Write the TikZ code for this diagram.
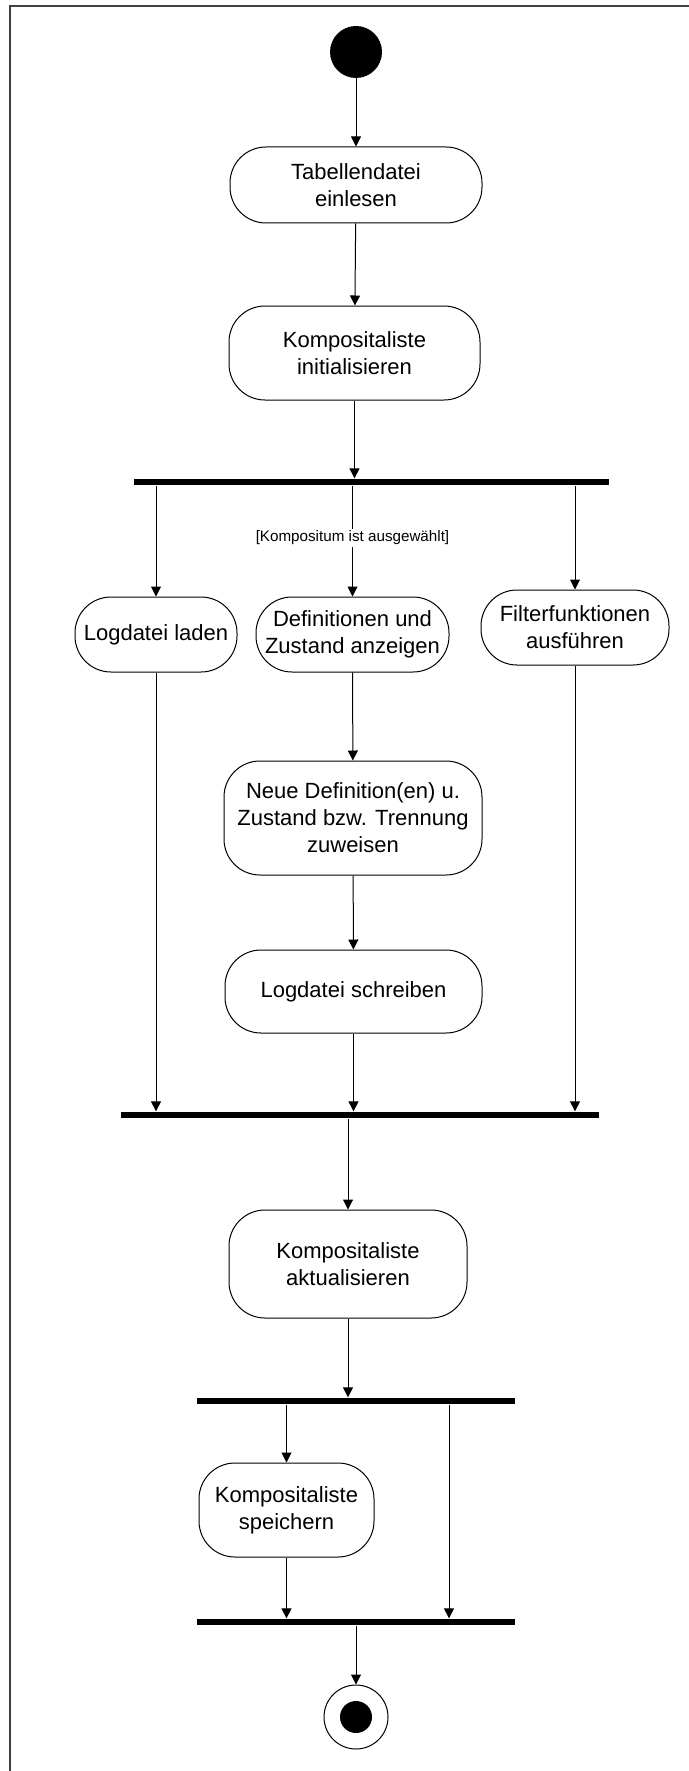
\documentclass[tikz,border=0pt]{standalone}
\usepackage{fontspec}
\setmainfont{Liberation Sans}
\usetikzlibrary{arrows.meta,calc}
\definecolor{FrameClr}{rgb}{0.25,0.25,0.25}
\definecolor{LineClr}{rgb}{0,0,0}

\tikzset{
  Act/.style={draw=LineClr,line width=0.5pt,rounded corners=18pt,fill=white,
    align=center,inner sep=2pt,font=\fontsize{11}{13.5}\selectfont},
  Bar/.style={fill=LineClr,inner sep=0pt,minimum height=3.25pt},
  Flow/.style={draw=LineClr,line width=0.5pt,-{Triangle[length=5pt,width=5pt]}},
  Guard/.style={fill=white,inner sep=1pt,font=\fontsize{7.6}{9}\selectfont}
}

\begin{document}
\begin{tikzpicture}[x=0.5pt,y=-0.5pt]
\useasboundingbox (0,0) rectangle (689,1771);

\draw[FrameClr,line width=1pt] (10,1771) -- (10,6) -- (689,6);

\node[circle,fill=LineClr,inner sep=0pt,minimum size=26pt] (Start) at (356,52) {};

\node[Act,minimum width=126pt,minimum height=38pt] (T) at (356,185) {Tabellendatei\\einlesen};
\node[Act,minimum width=125.5pt,minimum height=47pt] (K) at (354.5,353) {Kompositaliste\\initialisieren};

\node[Bar,minimum width=237.5pt] (J1) at (371.5,482) {};

\node[Act,minimum width=81pt,minimum height=37.5pt] (L) at (156,634.5) {Logdatei laden};
\node[Act,minimum width=96.5pt,minimum height=37.5pt] (D) at (352.5,634.5) {Definitionen und\\Zustand anzeigen};
\node[Act,minimum width=94pt,minimum height=37.5pt] (F) at (575,627.5) {Filterfunktionen\\ausführen};

\node[Act,minimum width=129pt,minimum height=57pt] (N) at (353,818) {Neue Definition(en) u.\\Zustand bzw. Trennung\\zuweisen};
\node[Act,minimum width=128.5pt,minimum height=41.5pt] (S) at (353.5,991.5) {Logdatei schreiben};

\node[Bar,minimum width=239pt] (J2) at (360,1115) {};

\node[Act,minimum width=119pt,minimum height=54pt] (A) at (348,1264) {Kompositaliste\\aktualisieren};

\node[Bar,minimum width=159pt] (J3) at (356,1401) {};
\coordinate (Skip) at (449,1401);

\node[Act,minimum width=87.5pt,minimum height=47pt] (P) at (286.5,1510) {Kompositaliste\\speichern};

\node[Bar,minimum width=159pt] (J4) at (356,1622) {};

\node[circle,draw=LineClr,line width=0.5pt,fill=white,minimum size=32pt] (End) at (356,1717) {};
\node[circle,fill=LineClr,inner sep=0pt,minimum size=16pt] (EndDot) at (End) {};

% flows
\draw[Flow] (Start) -- (T);
\draw[Flow] (T) -- (K);
\draw[Flow] (K) -- (K |- J1.north);

\draw[Flow] (J1.south -| L) -- (L);
\draw[Flow] (J1.south -| D) -- (D);
\draw[Flow] (J1.south -| F) -- (F);
\node[Guard] (G) at (352.5,538) {[Kompositum ist ausgewählt]};

\draw[Flow] (D) -- (N);
\draw[Flow] (N) -- (S);

\draw[Flow] (L) -- (L |- J2.north);
\draw[Flow] (S) -- (S |- J2.north);
\draw[Flow] (F) -- (F |- J2.north);

\draw[Flow] (J2.south -| A) -- (A);
\draw[Flow] (A) -- (A |- J3.north);

\draw[Flow] (J3.south -| P) -- (P);
\draw[Flow] (J3.south -| Skip) -- (J4.north -| Skip);
\draw[Flow] (P) -- (P |- J4.north);

\draw[Flow] (J4.south -| End) -- (End);

\end{tikzpicture}
\end{document}
